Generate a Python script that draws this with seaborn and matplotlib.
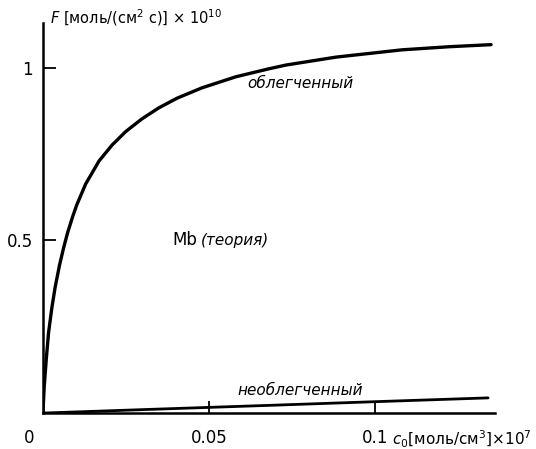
import matplotlib
matplotlib.use("Agg")
import matplotlib.pyplot as plt
import pandas as pd
import seaborn as sns

# flux F (x 1e10) vs bulk concentration c0 (x 1e7)
facil_c0 = [0.0, 0.0004, 0.001, 0.0017, 0.0027, 0.0037, 0.005, 0.0062, 0.0074,
            0.009, 0.0102, 0.0129, 0.0169, 0.0208, 0.0249, 0.0298, 0.0349,
            0.0404, 0.0479, 0.0581, 0.068, 0.0732, 0.0883, 0.1081, 0.1223,
            0.1349]
facil_F = [0.0, 0.076, 0.154, 0.232, 0.305, 0.365, 0.428, 0.477, 0.521,
           0.570, 0.603, 0.664, 0.730, 0.776, 0.815, 0.852, 0.884,
           0.912, 0.942, 0.974, 0.997, 1.008, 1.031, 1.052, 1.061,
           1.067]
plain_c0 = [0.0, 0.03, 0.07, 0.1, 0.134]
plain_F = [0.0, 0.01, 0.023, 0.033, 0.044]

x_ticks = [0, 0.05, 0.1]
x_ticklabels = ["0", "0.05", "0.1"]
y_ticks = [0.5, 1]
y_ticklabels = ["0.5", "1"]

df = pd.concat([
    pd.DataFrame({"c0": facil_c0, "F": facil_F, "kind": "облегченный"}),
    pd.DataFrame({"c0": plain_c0, "F": plain_F, "kind": "необлегченный"}),
])

sns.set_style("ticks")
plt.rcParams["font.family"] = ["DejaVu Sans"]
plt.rcParams["text.color"] = "black"

fig = plt.figure(figsize=(5.36, 4.49), dpi=100)
ax = fig.add_axes([0.080, 0.080, 0.843, 0.869])

sns.lineplot(data=df[df.kind == "облегченный"], x="c0", y="F", color="black",
             lw=2.4, ax=ax, sort=False, estimator=None)
sns.lineplot(data=df[df.kind == "необлегченный"], x="c0", y="F", color="black",
             lw=2.0, ax=ax, sort=False, estimator=None)

ax.set_xlim(0, 0.136)
ax.set_ylim(0, 1.13)
sns.despine(ax=ax)
for s in ("left", "bottom"):
    ax.spines[s].set_linewidth(1.8)
    ax.spines[s].set_color("black")

ax.set_xticks(x_ticks[1:])
ax.set_xticklabels([])
ax.set_yticks(y_ticks)
ax.set_yticklabels(y_ticklabels, fontsize=12)
ax.tick_params(axis="both", direction="in", length=9, width=1.3,
               colors="black")
ax.tick_params(axis="y", pad=7)
ax.set_xlabel("")
ax.set_ylabel("")

# x tick labels sit below, the "0" left of the origin
for xv, lab in zip(x_ticks, x_ticklabels):
    dx = -0.004 if xv == 0 else 0.0
    ax.text(xv + dx, -0.045, lab, ha="center", va="top", fontsize=12)

ax.text(0.105, -0.045, r"$c_0$[моль/см$^3$]×10$^7$", ha="left", va="top",
        fontsize=11)
ax.text(0.002, 1.145, r"$F$ [моль/(см$^2$ с)] × 10$^{10}$", ha="left",
        va="center", fontsize=10.5, clip_on=False)

ax.text(0.0774, 0.975, "облегченный", ha="center", va="top",
        fontsize=11, style="italic")
ax.text(0.0774, 0.045, "необлегченный", ha="center", va="bottom",
        fontsize=11, style="italic")
ax.text(0.039, 0.50, "Mb", ha="left", va="center", fontsize=12)
ax.text(0.0475, 0.50, "(теория)", ha="left", va="center", fontsize=11,
        style="italic")

fig.savefig("out.png", dpi=100)
